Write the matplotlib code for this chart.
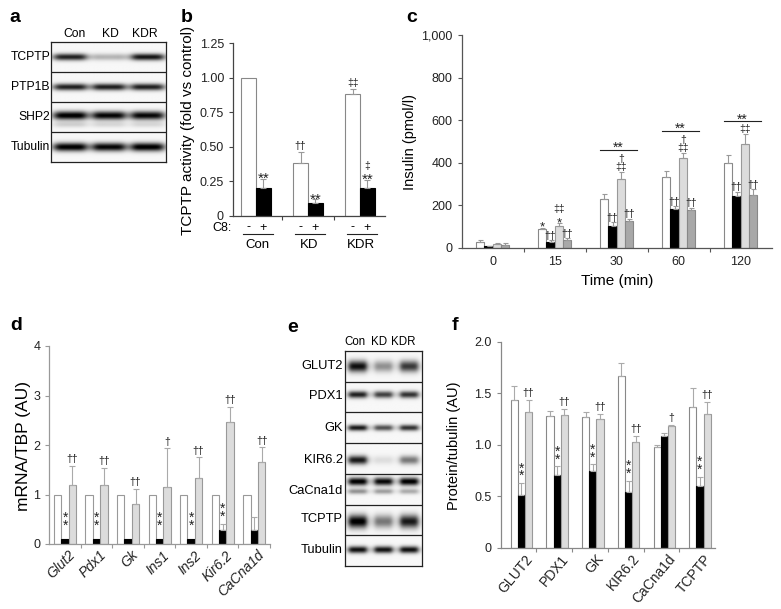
import numpy as np
import matplotlib
matplotlib.use('Agg')
import matplotlib.pyplot as plt
from matplotlib.transforms import blended_transform_factory, ScaledTranslation

plt.rcParams['font.family'] = ['Liberation Sans', 'DejaVu Sans']

# ---------------- data ----------------
# panel a (western blot band intensities, 0..1)
a_lanes = ['Con', 'KD', 'KDR']
a_rows = ['TCPTP', 'PTP1B', 'SHP2', 'Tubulin']
a_bands = [[0.85, 0.25, 0.90], [0.85, 0.85, 0.85], [1.00, 0.95, 0.95], [1.00, 0.95, 1.00]]
a_second = [None, None, [0.15, 0.12, 0.12], None]

# panel b
b_groups = ['Con', 'KD', 'KDR']
b_minus = [1.00, 0.385, 0.88]
b_minus_err = [0.0, 0.075, 0.035]
b_plus = [0.20, 0.095, 0.20]
b_plus_err = [0.07, 0.025, 0.06]
b_minus_marks = [[], ['††'], ['‡‡']]
b_plus_marks = [['**'], ['**'], ['**', '‡']]

# panel c
c_times = ['0', '15', '30', '60', '120']
c_s1 = [28, 87, 228, 333, 400]
c_s1_err = [8, 8, 27, 29, 38]
c_s2 = [8, 28, 105, 183, 245]
c_s2_err = [3, 8, 16, 12, 20]
c_s3 = [20, 105, 322, 422, 488]
c_s3_err = [5, 13, 36, 25, 47]
c_s4 = [12, 38, 125, 177, 250]
c_s4_err = [12, 7, 13, 13, 25]
c_marks1 = [[], ['*'], [], [], []]
c_marks2 = [[], ['††'], ['††'], ['††'], ['††']]
c_marks3 = [[], ['*', '‡‡'], ['‡‡', '†'], ['‡‡', '†'], ['‡‡']]
c_marks4 = [[], ['††'], ['††'], ['††'], ['††']]
c_bracket_groups = [2, 3, 4]
c_bracket_text = ['**', '**', '**']

# panel d
d_genes = ['Glut2', 'Pdx1', 'Gk', 'Ins1', 'Ins2', 'Kir6.2', 'CaCna1d']
d_con = [1, 1, 1, 1, 1, 1, 1]
d_kd = [0.10, 0.10, 0.10, 0.10, 0.10, 0.28, 0.28]
d_kd_err = [0, 0, 0, 0, 0, 0.12, 0.27]
d_kdr = [1.20, 1.19, 0.80, 1.15, 1.34, 2.46, 1.65]
d_kdr_err = [0.37, 0.34, 0.32, 0.78, 0.41, 0.31, 0.30]
d_kd_marks = ['**', '**', '', '**', '**', '**', '']
d_kdr_marks = ['††', '††', '††', '†', '††', '††', '††']

# panel e (western blot)
e_lanes = ['Con', 'KD', 'KDR']
e_rows = ['GLUT2', 'PDX1', 'GK', 'KIR6.2', 'CaCna1d', 'TCPTP', 'Tubulin']
e_bands = [[0.92, 0.40, 0.75], [0.85, 0.72, 0.78], [0.88, 0.65, 0.78], [0.88, 0.10, 0.50],
           [1.00, 0.95, 1.00], [1.00, 0.50, 0.88], [0.92, 0.90, 0.92]]
e_second = [None, None, None, None, [0.40, 0.35, 0.30], None, None]

# panel f
f_prot = ['GLUT2', 'PDX1', 'GK', 'KIR6.2', 'CaCna1d', 'TCPTP']
f_con = [1.43, 1.28, 1.27, 1.67, 0.98, 1.37]
f_con_err = [0.14, 0.05, 0.05, 0.12, 0.02, 0.18]
f_kd = [0.51, 0.71, 0.74, 0.54, 1.08, 0.60]
f_kd_err = [0.12, 0.08, 0.07, 0.11, 0.03, 0.09]
f_kdr = [1.32, 1.29, 1.25, 1.03, 1.18, 1.30]
f_kdr_err = [0.11, 0.06, 0.05, 0.05, 0.01, 0.11]
f_kd_marks = ['**', '**', '**', '**', '', '**']
f_kdr_marks = ['††', '††', '††', '††', '†', '††']

# ---------------- layout helpers ----------------
W, H = 781, 609
fig = plt.figure(figsize=(W / 100, H / 100), dpi=100)
TICK_FS = 9
STAR_FS = 11
DAG_FS = 7.5


def box(l, t, r, b):
    return [l / W, 1 - b / H, (r - l) / W, (b - t) / H]


def ftext(x, y, s, **kw):
    fig.text(x / W, 1 - y / H, s, **kw)


def mark(ax, x, y, s, fs=None, color='#222'):
    # place symbol so its visual centre sits at data y
    if fs is None:
        fs = STAR_FS if '*' in s else DAG_FS
    off = 0.59 if '*' in s else 0.30
    ax.annotate(s, (x, y), xytext=(0, -off * fs), textcoords='offset points',
                ha='center', va='baseline', fontsize=fs, color=color)


def vstars(ax, x, y, fs=10, color='#222'):
    # two asterisks stacked vertically (one text)
    ax.annotate('*\n*', (x, y), xytext=(0, -0.12 * fs), textcoords='offset points',
                ha='center', va='center', fontsize=fs, color=color, linespacing=0.42)


def vdaggers(ax, x, y_mid, lines, fs=DAG_FS, color='#222'):
    # stacked dagger symbols in one text; lines listed bottom -> top
    ax.annotate('\n'.join(reversed(lines)), (x, y_mid), ha='center', va='center',
                fontsize=fs, color=color, linespacing=0.75)


def errs(ax, x, y, e, color='#999', lw=0.8, cap=2):
    x = np.asarray(x, float); y = np.asarray(y, float); e = np.asarray(e, float)
    m = e > 0
    if m.any():
        ax.errorbar(x[m], y[m], yerr=[np.zeros(m.sum()), e[m]], fmt='none',
                    ecolor=color, elinewidth=lw, capsize=cap, capthick=lw)


def style_axes(ax, spine_color):
    for s in ['top', 'right']:
        ax.spines[s].set_visible(False)
    for s in ['left', 'bottom']:
        ax.spines[s].set_color(spine_color)
        ax.spines[s].set_linewidth(0.9)
    ax.tick_params(axis='both', which='both', colors=spine_color, labelcolor='#222',
                   labelsize=TICK_FS, length=3, width=0.8, direction='out')


def draw_blot(ax, bands, second, centers, sig, second_off=0.28, lane_half=0.42):
    nr, nl = len(bands), len(bands[0])
    rx, ry = 240, 80 * nr
    xs = (np.arange(rx) + 0.5) / rx * nl
    ys = (np.arange(ry) + 0.5) / ry * nr
    X, Y = np.meshgrid(xs, ys)
    img = np.full(X.shape, 0.03)
    for r in range(nr):
        for l in range(nl):
            px = 1.0 / (1.0 + ((X - (l + 0.5)) / lane_half) ** 6)
            img += bands[r][l] * px * np.exp(-0.5 * ((Y - (r + centers[r])) / sig[r]) ** 2)
            if second[r] is not None:
                img += second[r][l] * px * np.exp(-0.5 * ((Y - (r + centers[r] + second_off)) / (sig[r] * 0.7)) ** 2)
    img = np.clip(img, 0, 1)
    ax.imshow(img, cmap='gray_r', vmin=0, vmax=1.0, extent=(0, nl, nr, 0),
              aspect='auto', interpolation='bilinear')
    for r in range(1, nr):
        ax.axhline(r, color='#222', lw=0.9)
    ax.set_xlim(0, nl); ax.set_ylim(nr, 0)
    ax.set_xticks([]); ax.set_yticks([])
    for s in ax.spines.values():
        s.set_color('#222'); s.set_linewidth(0.9)


# ---------------- panel letters ----------------
for lt, x, y in [('a', 15, 18), ('b', 187, 17), ('c', 412, 18),
                 ('d', 16, 326), ('e', 293, 328), ('f', 455, 326)]:
    ftext(x, y, lt, fontsize=14, fontweight='bold', ha='center', va='center')

# ---------------- panel a ----------------
axa = fig.add_axes(box(51, 42, 166, 162))
draw_blot(axa, a_bands, a_second, centers=[0.5, 0.5, 0.45, 0.5], sig=[0.08, 0.08, 0.1, 0.1],
          second_off=0.3)
for i, lab in enumerate(a_lanes):
    ftext([75, 110, 145][i], 34, lab, fontsize=8.7, ha='center', va='center')
for i, lab in enumerate(a_rows):
    ftext(50, 42 + (i + 0.5) * 30, lab, fontsize=8.7, ha='right', va='center')

# ---------------- panel b ----------------
axb = fig.add_axes(box(233, 43, 385, 216))
style_axes(axb, '#444')
xb = np.arange(len(b_groups))
bw = 0.285
axb.bar(xb - bw / 2, b_minus, bw, color='white', edgecolor='#888', lw=0.8)
axb.bar(xb + bw / 2, b_plus, bw, color='black', edgecolor='black', lw=0.8)
errs(axb, xb - bw / 2, b_minus, b_minus_err)
errs(axb, xb + bw / 2, b_plus, b_plus_err)
for i in range(len(b_groups)):
    for k, s in enumerate(b_minus_marks[i]):
        mark(axb, xb[i] - bw / 2, b_minus[i] + b_minus_err[i] + 0.045 + 0.06 * k, s)
    for k, s in enumerate(b_plus_marks[i]):
        mark(axb, xb[i] + bw / 2, b_plus[i] + b_plus_err[i] + 0.035 + 0.065 * k, s)
axb.set_xlim(-0.44, 2.48)
axb.set_ylim(0, 1.25)
axb.set_yticks([0, 0.25, 0.5, 0.75, 1.0, 1.25], ['0', '0.25', '0.50', '0.75', '1.00', '1.25'])
axb.set_xticks([0.5, 1.5], ['', ''])
ftext(188, 130, 'TCPTP activity (fold vs control)', fontsize=11, rotation=90,
      ha='center', va='center')
tb = blended_transform_factory(axb.transData, fig.transFigure)
fig.text(232 / W, 1 - 228.5 / H, 'C8:', fontsize=9, ha='right', va='center')
for i, g in enumerate(b_groups):
    axb.text(xb[i] - bw / 2, 1 - 227.5 / H, '-', transform=tb, fontsize=9, ha='center', va='center')
    axb.text(xb[i] + bw / 2, 1 - 227.5 / H, '+', transform=tb, fontsize=9, ha='center', va='center')
    axb.plot([xb[i] - 0.25, xb[i] + 0.32], [1 - 234.5 / H] * 2, transform=tb, color='#222',
             lw=0.8, clip_on=False)
    axb.text(xb[i] + 0.02, 1 - 245.5 / H, g, transform=tb, fontsize=9.5, ha='center', va='center')

# ---------------- panel c ----------------
axc = fig.add_axes(box(461.7, 35, 771.7, 248))
style_axes(axc, '#555')
xc = np.arange(len(c_times))
cw = 0.135
series = [(c_s1, c_s1_err, 'white', '#888', c_marks1),
          (c_s2, c_s2_err, 'black', 'black', c_marks2),
          (c_s3, c_s3_err, '#dcdcdc', '#999', c_marks3),
          (c_s4, c_s4_err, '#a8a8a8', '#888', c_marks4)]
for j, (v, e, fc, ec, mk) in enumerate(series):
    xx = xc + (j - 1.5) * cw
    axc.bar(xx, v, cw, color=fc, edgecolor=ec, lw=0.8)
    errs(axc, xx, v, e, cap=1.8)
    for i in range(len(c_times)):
        ms = mk[i]
        base = v[i] + e[i] + 22
        if len(ms) == 2 and not any('*' in s for s in ms):
            vdaggers(axc, xx[i], base + 19, ms)
        else:
            for k, s in enumerate(ms):
                mark(axc, xx[i], base + 42 * k, s, fs=(9.5 if '*' in s else 7.5))
for g, s in zip(c_bracket_groups, c_bracket_text):
    top = max(c_s3[g] + c_s3_err[g], c_s1[g] + c_s1_err[g])
    yb = top + 22 + 42 * (len(c_marks3[g])) - 2
    axc.plot([g - 0.27, g + 0.32], [yb, yb], color='#222', lw=0.8)
    mark(axc, g + 0.02, yb + 27, s, fs=10)
axc.set_xlim(-0.5, 4.5)
axc.set_ylim(0, 1000)
axc.set_yticks([0, 200, 400, 600, 800, 1000], ['0', '200', '400', '600', '800', '1,000'])
axc.set_xticks(xc, c_times)
axc.set_xticks([0.5, 1.5, 2.5, 3.5], minor=True)
axc.tick_params(axis='x', which='major', length=0, pad=6)
axc.set_xlabel('Time (min)', fontsize=11, labelpad=4)
ftext(410, 142, 'Insulin (pmol/l)', fontsize=10.5, rotation=90, ha='center', va='center')

# ---------------- panel d ----------------
axd = fig.add_axes(box(49.3, 346, 270, 544))
style_axes(axd, '#999')
xd = np.arange(len(d_genes))
dw = 0.235
axd.bar(xd - dw, d_con, dw, color='white', edgecolor='#999', lw=0.8)
axd.bar(xd, d_kd, dw, color='black', edgecolor='black', lw=0.8)
axd.bar(xd + dw, d_kdr, dw, color='#dcdcdc', edgecolor='#999', lw=0.8)
errs(axd, xd, d_kd, d_kd_err, color='#aaa')
errs(axd, xd + dw, d_kdr, d_kdr_err, color='#aaa')
for i in range(len(d_genes)):
    if d_kd_marks[i]:
        low = max(d_kd[i] + d_kd_err[i], 0.22) + 0.2
        vstars(axd, xd[i], low + 0.06)
    if d_kdr_marks[i]:
        mark(axd, xd[i] + dw, d_kdr[i] + d_kdr_err[i] + 0.14, d_kdr_marks[i])
axd.set_xlim(-0.5, 6.5)
axd.set_ylim(0, 4)
axd.set_yticks([0, 1, 2, 3, 4], ['0', '1', '2', '3', '4'])
axd.set_xticks(xd, d_genes, rotation=45, ha='right', rotation_mode='anchor',
               fontstyle='italic', fontsize=10)
axd.set_xticks([0.5, 1.5, 2.5, 3.5, 4.5, 5.5, 6.5], minor=True)
axd.tick_params(axis='x', which='major', length=0, pad=3)
for lab in axd.get_xticklabels():
    lab.set_transform(lab.get_transform() + ScaledTranslation(3 / 100, 0, fig.dpi_scale_trans))
ftext(24, 446, 'mRNA/TBP (AU)', fontsize=12.5, rotation=90, ha='center', va='center')

# ---------------- panel e ----------------
axe = fig.add_axes(box(345, 351, 421.7, 566))
draw_blot(axe, e_bands, e_second, centers=[0.5, 0.42, 0.5, 0.55, 0.25, 0.55, 0.47],
          sig=[0.13, 0.08, 0.07, 0.1, 0.09, 0.15, 0.08], second_off=0.32, lane_half=0.36)
for i, lab in enumerate(e_lanes):
    ftext([355, 379, 403][i], 342, lab, fontsize=8.3, ha='center', va='center')
e_row_y = [366, 396, 428, 460, 491, 519, 550]
for lab, y in zip(e_rows, e_row_y):
    ftext(343, y, lab, fontsize=9.3, ha='right', va='center')

# ---------------- panel f ----------------
axf = fig.add_axes(box(500.7, 341.7, 715, 547.7))
style_axes(axf, '#888')
xf = np.arange(len(f_prot))
fw = 0.2
sh = 0.08
axf.bar(xf + sh - fw, f_con, fw, color='white', edgecolor='#888', lw=0.8)
axf.bar(xf + sh, f_kd, fw, color='black', edgecolor='black', lw=0.8)
axf.bar(xf + sh + fw, f_kdr, fw, color='#dcdcdc', edgecolor='#999', lw=0.8)
errs(axf, xf + sh - fw, f_con, f_con_err, color='#aaa')
errs(axf, xf + sh, f_kd, f_kd_err, color='#aaa')
errs(axf, xf + sh + fw, f_kdr, f_kdr_err, color='#aaa')
for i in range(len(f_prot)):
    if f_kd_marks[i]:
        low = f_kd[i] + f_kd_err[i] + 0.09
        vstars(axf, xf[i] + sh, low + 0.03)
    if f_kdr_marks[i]:
        mark(axf, xf[i] + sh + fw, f_kdr[i] + f_kdr_err[i] + 0.07, f_kdr_marks[i])
axf.set_xlim(-0.5, 5.5)
axf.set_ylim(0, 2.0)
axf.set_yticks([0, 0.5, 1.0, 1.5, 2.0], ['0', '0.5', '1.0', '1.5', '2.0'])
axf.set_xticks(xf, f_prot, rotation=50, ha='right', rotation_mode='anchor', fontsize=10)
axf.set_xticks([0.5, 1.5, 2.5, 3.5, 4.5], minor=True)
axf.tick_params(axis='x', which='major', length=0, pad=3)
for lab in axf.get_xticklabels():
    lab.set_transform(lab.get_transform() + ScaledTranslation(6 / 100, 0, fig.dpi_scale_trans))
ftext(454, 446, 'Protein/tubulin (AU)', fontsize=10.5, rotation=90, ha='center', va='center')

fig.savefig('out.png', dpi=100)
